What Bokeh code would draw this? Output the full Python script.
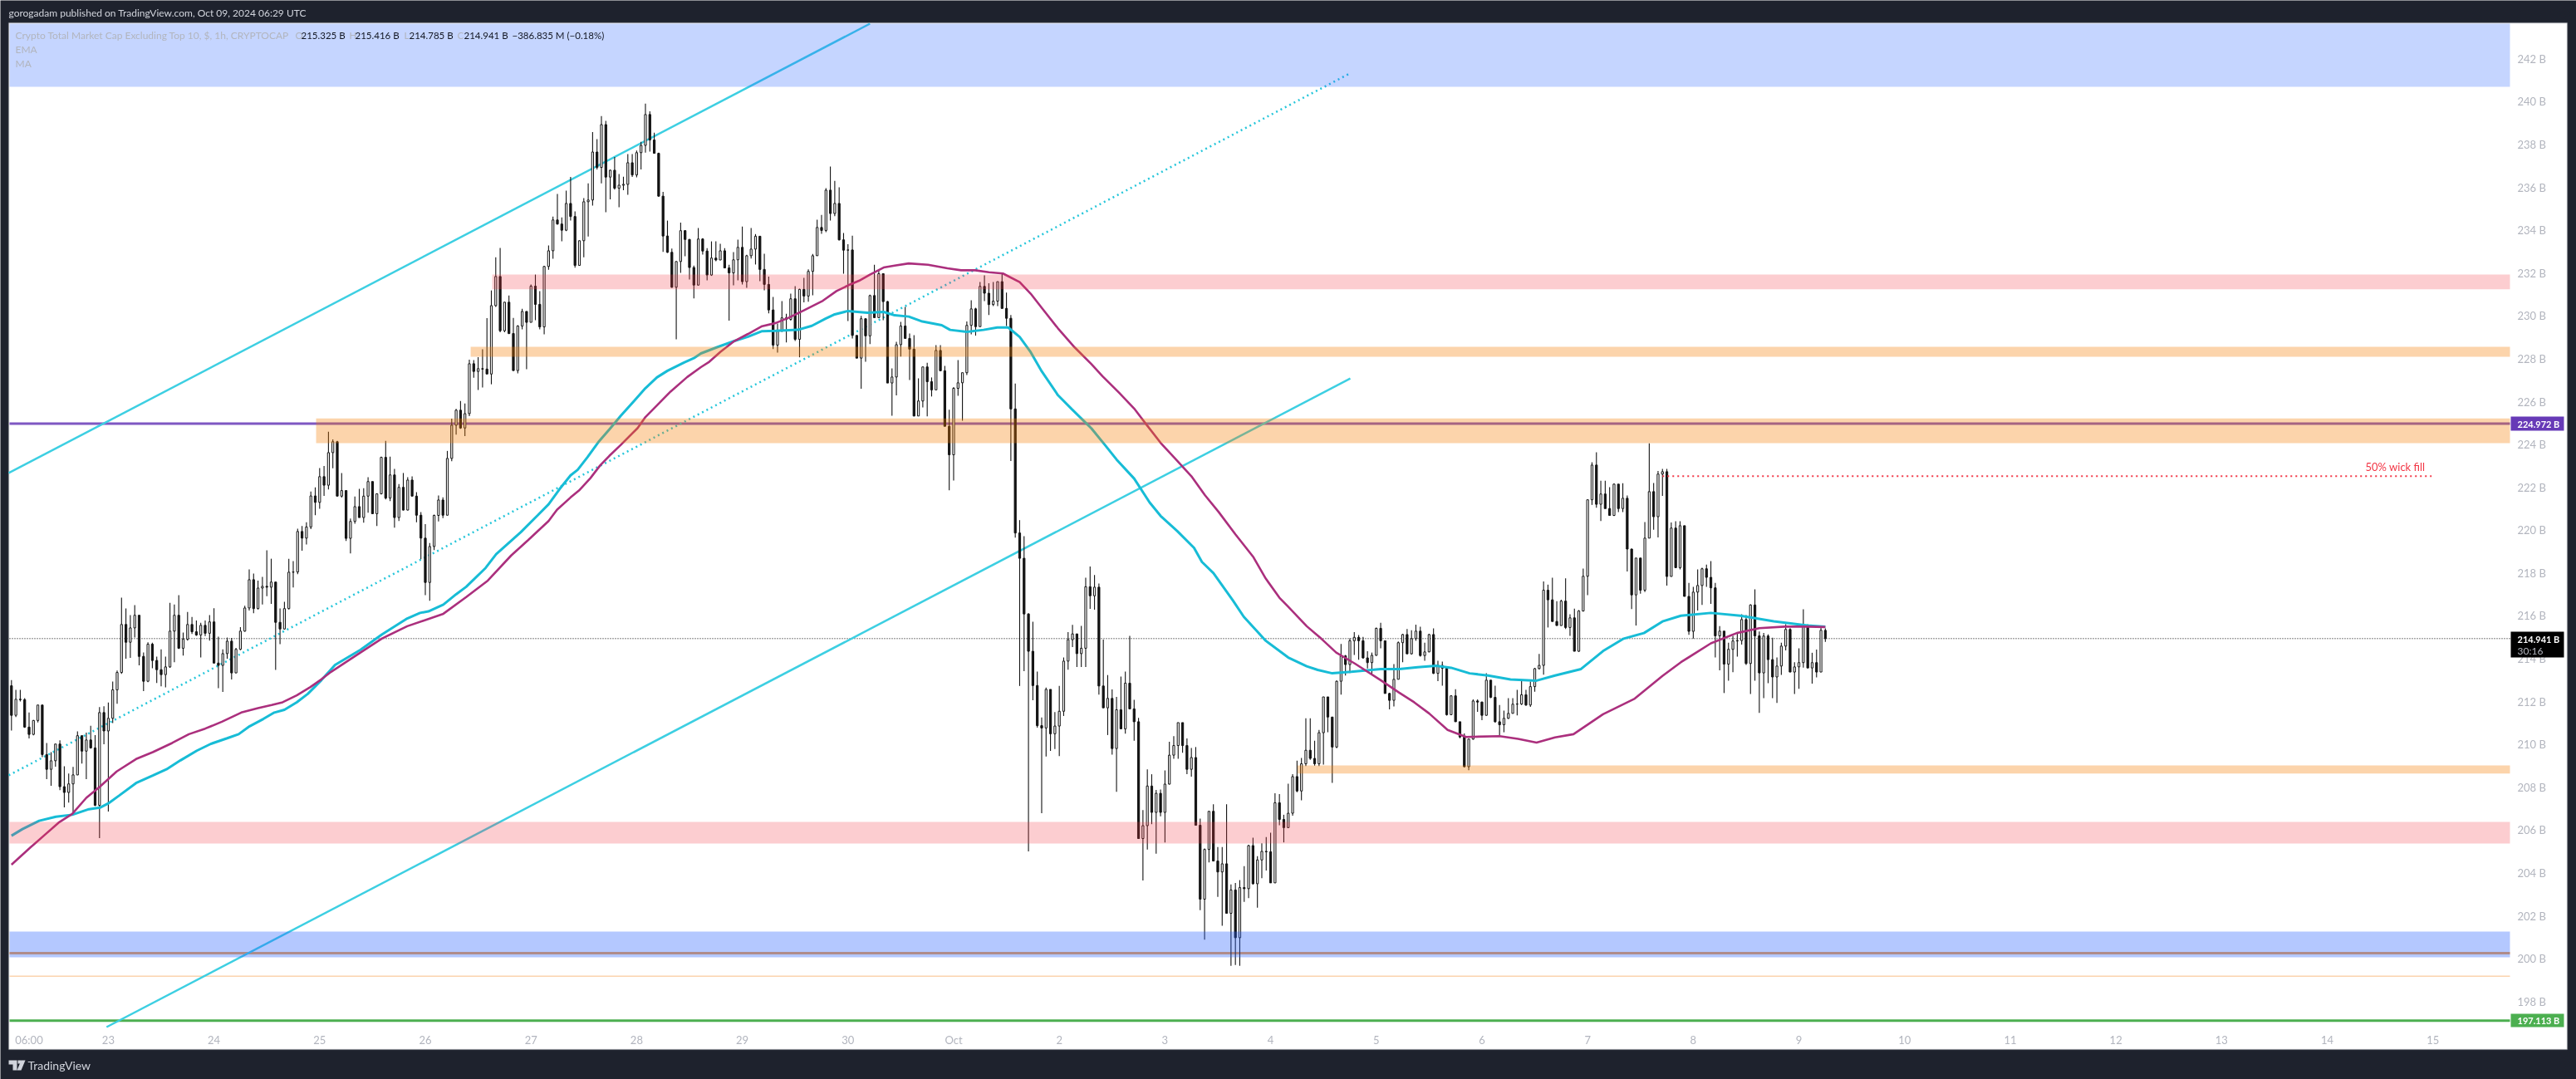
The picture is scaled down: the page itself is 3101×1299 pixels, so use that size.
from bokeh.plotting import figure
from bokeh.embed import file_html
from bokeh.resources import INLINE
from bokeh.models import (Range1d, FixedTicker, LinearAxis, BoxAnnotation, Label, PolyAnnotation,
                          PrintfTickFormatter)

# ---------- chart values (billions USD) ----------
first_open = 212.74
closes = [
211.36,212.11,212.09,210.81,210.47,211.12,211.84,209.53,208.84,209.24,
210.02,208.03,207.76,208.16,208.58,210.41,209.69,210.21,209.84,207.16,
211.49,210.63,211.22,212.55,213.36,215.60,214.77,215.44,216.03,214.11,
212.95,214.68,213.92,213.49,213.26,213.62,215.29,216.03,214.49,214.91,
215.60,215.26,215.11,215.56,215.19,215.72,213.80,213.69,214.24,214.82,
213.34,214.44,215.29,216.37,217.69,216.34,217.30,217.38,217.34,217.58,
215.70,215.39,216.34,218.04,218.05,219.94,219.63,220.15,221.60,221.30,
222.50,222.10,223.62,224.13,221.59,221.85,219.62,220.41,221.10,220.59,
221.59,222.27,220.77,221.70,223.40,221.50,222.58,220.59,222.00,220.94,
222.34,221.59,220.70,219.63,217.56,219.24,220.69,221.41,220.70,223.35,
224.90,225.60,224.77,225.44,227.77,227.41,227.54,227.52,227.29,230.48,
231.84,229.31,230.64,229.18,227.45,229.53,230.21,229.70,231.39,230.54,
229.49,232.31,233.04,234.48,234.29,234.00,235.25,234.64,232.36,233.51,
235.33,235.41,237.65,236.93,238.93,236.48,236.80,235.96,236.10,236.14,
237.15,236.58,237.62,237.96,239.40,238.21,237.59,235.59,233.73,232.97,
231.34,232.54,233.98,233.57,232.26,231.44,233.59,233.03,231.91,232.70,
232.61,233.04,232.24,232.01,232.62,233.20,231.60,232.81,233.12,233.72,
232.17,231.47,230.28,228.64,229.29,229.91,229.84,230.80,228.91,231.24,
230.93,232.08,232.81,234.13,233.99,235.87,234.78,235.25,233.55,233.07,
233.08,229.09,228.03,229.87,229.07,230.95,229.92,231.97,230.67,226.87,
227.15,228.66,229.53,228.95,228.45,225.33,226.03,227.62,226.93,226.55,
228.39,227.44,224.85,223.52,226.62,226.88,227.35,229.56,230.33,229.50,
231.38,231.06,230.53,230.69,231.60,230.35,229.89,225.66,219.87,218.69,
216.09,214.35,212.75,210.88,210.77,212.57,210.50,210.86,211.55,213.89,
214.89,215.16,214.24,214.49,217.36,216.94,217.34,212.73,211.71,212.15,
209.81,211.62,210.73,212.86,211.66,211.06,205.61,206.21,208.06,206.83,
207.72,206.83,208.15,209.50,209.95,211.02,209.95,208.84,209.39,206.23,
202.78,205.10,206.88,204.56,204.05,204.43,202.12,203.21,200.98,203.32,
203.27,205.28,203.50,204.61,205.01,204.99,203.54,207.28,206.50,206.12,
206.79,208.50,207.83,209.10,209.73,209.35,209.10,210.55,212.22,211.28,
209.88,212.95,214.13,213.73,214.84,215.00,214.84,214.04,213.82,214.16,
215.42,214.84,212.38,212.06,213.04,214.75,215.13,214.23,214.94,215.29,
214.15,214.32,215.13,213.32,213.69,213.56,211.39,212.27,211.06,210.35,
208.96,210.25,212.03,211.98,211.36,213.00,212.20,211.06,210.92,211.22,
211.45,211.88,211.89,212.32,211.84,212.70,213.54,213.69,217.20,216.75,
215.74,215.55,216.69,215.46,215.91,214.35,216.23,217.85,221.42,223.04,
221.21,221.69,221.01,220.69,222.15,221.01,221.49,219.12,216.98,218.70,
217.20,219.63,221.80,220.63,222.62,222.73,217.84,220.10,218.25,220.21,
216.91,215.28,217.11,217.42,218.20,217.80,217.31,215.07,215.29,213.75,
214.44,214.83,214.85,215.83,213.78,216.51,215.07,213.34,215.06,213.96,
213.15,213.66,214.59,215.37,213.38,213.62,213.82,215.56,213.57,213.82,
213.38,215.33,214.941]
highs = [
213.00,212.55,212.55,212.16,211.49,211.14,211.84,211.84,210.07,209.64,
210.02,210.19,208.98,208.64,208.95,210.61,210.41,210.55,210.87,210.44,
211.74,211.78,211.96,212.94,213.45,216.85,216.35,216.04,216.50,216.03,
214.29,214.77,214.75,214.10,214.44,214.10,216.61,216.53,216.97,215.22,
216.18,215.95,215.79,215.68,215.79,216.04,216.36,215.03,214.44,214.99,
214.97,214.51,215.48,216.47,218.17,217.98,217.65,217.82,219.06,218.67,
217.58,216.35,216.66,218.66,218.56,220.07,220.20,220.37,221.80,222.00,
222.90,223.00,224.60,224.24,224.17,222.67,221.85,220.54,221.57,221.93,
221.96,222.47,222.27,221.72,223.43,224.17,223.43,222.86,222.15,222.67,
222.47,222.51,221.78,220.85,220.28,219.40,220.73,221.62,221.53,223.70,
225.21,225.66,226.03,225.91,227.96,227.94,228.08,228.44,229.90,231.19,
232.74,233.17,230.65,230.95,229.91,229.57,230.33,230.21,231.47,231.93,
231.16,232.34,233.29,234.64,235.69,234.60,235.85,236.49,234.88,233.52,
235.50,236.19,238.58,238.25,239.33,239.10,236.83,237.42,236.62,236.50,
237.55,237.55,237.72,238.13,239.91,239.55,238.55,237.62,235.79,234.45,
233.14,232.54,234.36,234.01,233.59,232.35,234.10,233.63,233.16,233.48,
233.48,233.37,233.16,232.39,232.98,233.56,234.17,232.85,234.10,233.82,
233.72,232.90,231.84,230.89,229.65,230.69,230.10,231.04,231.39,231.27,
231.78,232.17,232.89,234.49,234.71,235.96,236.97,236.30,236.00,233.87,
233.35,233.74,229.09,230.00,229.87,230.99,232.39,232.13,231.97,230.70,
227.55,228.79,229.72,230.42,229.18,229.10,227.09,227.62,227.81,227.13,
228.64,228.64,227.67,225.62,226.68,227.94,227.35,229.74,230.73,230.38,
231.58,231.89,231.53,231.58,231.60,232.02,231.09,230.04,226.84,220.47,
219.72,216.13,215.73,213.40,211.26,212.66,212.57,211.51,212.73,214.06,
215.24,215.58,215.16,215.53,217.78,218.31,217.91,217.51,214.89,213.24,
212.57,212.22,213.17,213.40,215.07,212.08,211.24,206.94,208.84,208.61,
207.88,207.90,208.79,210.13,210.39,211.02,211.02,210.28,209.84,209.88,
206.54,205.14,206.88,207.21,205.21,205.21,207.21,203.47,203.54,203.67,
204.32,205.32,205.65,204.79,205.39,205.68,205.88,207.72,207.68,206.72,
208.17,208.61,209.24,209.37,211.22,211.22,210.17,210.68,212.22,212.22,
211.28,212.99,214.69,214.18,214.95,215.24,215.11,215.02,214.35,214.29,
215.46,215.68,214.58,212.41,213.75,214.81,215.17,215.39,215.33,215.59,
215.50,214.75,215.17,215.42,213.91,213.87,213.61,212.30,212.58,211.06,
210.51,210.25,212.10,212.10,212.00,213.32,213.00,212.74,211.84,211.58,
212.16,212.16,212.55,212.96,212.55,212.94,213.58,214.23,217.61,217.46,
217.78,216.69,216.76,217.75,216.08,216.34,216.27,218.21,221.42,223.17,
223.64,222.31,222.31,222.01,222.18,222.15,222.19,221.62,219.14,218.70,
218.70,220.38,224.05,222.20,222.76,222.86,222.86,220.36,220.42,220.42,
220.21,217.54,217.36,218.17,218.25,218.39,218.56,217.54,215.52,215.29,
214.75,215.07,215.17,216.08,216.04,216.54,217.24,215.27,215.20,215.14,
214.98,214.06,214.75,215.61,215.43,213.84,214.49,216.31,215.61,214.28,
214.43,215.50,215.416]
lows = [
210.65,211.28,212.01,210.78,210.28,210.43,211.03,209.41,208.38,208.07,
208.96,207.87,207.06,207.29,206.71,208.57,209.11,208.38,209.81,207.12,
205.63,210.01,206.87,211.00,211.90,213.30,214.00,214.04,214.99,213.69,
212.49,212.91,213.56,212.87,212.71,212.67,213.58,213.84,214.46,214.15,
214.85,215.16,215.07,214.06,215.06,214.85,213.78,212.63,212.45,214.00,
213.03,213.33,214.40,215.26,216.25,216.13,216.30,216.53,216.92,216.56,
213.48,214.68,215.37,216.30,217.33,217.95,219.04,219.33,220.05,220.70,
221.00,221.60,221.90,222.89,221.59,221.52,219.50,218.92,220.30,220.59,
220.35,220.82,220.77,220.20,221.67,221.44,221.36,220.12,220.43,220.92,
220.92,221.59,220.37,218.65,216.97,216.71,219.07,220.41,220.56,220.69,
223.22,224.46,224.73,224.39,225.32,227.12,226.54,226.66,227.29,226.81,
230.42,229.24,229.24,229.15,227.45,227.32,229.37,227.51,229.70,229.80,
229.37,229.14,232.16,232.67,234.26,233.48,233.96,234.45,232.25,232.34,
232.74,233.71,235.15,236.84,236.19,234.84,235.44,235.90,235.07,235.87,
235.65,236.49,236.47,236.84,237.62,237.67,237.59,235.57,232.99,232.94,
231.31,228.91,232.01,232.79,231.70,230.82,231.43,232.86,231.66,231.87,
232.55,232.61,232.24,229.78,231.43,231.66,231.47,231.31,232.68,232.40,
231.62,231.20,230.12,228.45,228.29,229.26,228.76,229.78,228.83,228.07,
230.63,230.66,230.96,232.80,233.83,233.91,234.45,234.66,233.52,231.97,
229.76,228.95,228.03,226.60,227.86,228.69,229.92,229.91,229.80,226.87,
225.34,226.29,228.10,228.95,227.01,225.31,225.33,225.73,225.31,226.24,
226.56,227.44,224.85,221.86,222.32,226.27,225.11,227.24,229.14,229.08,
229.50,230.69,230.04,230.46,230.46,230.35,229.53,223.23,219.65,212.73,
213.42,205.01,212.06,210.79,206.79,209.44,209.70,209.79,209.46,211.33,
213.49,214.55,213.62,213.62,213.62,216.33,216.29,212.33,211.71,210.44,
209.53,207.79,210.73,210.50,211.66,210.17,205.61,203.65,205.10,206.28,
204.90,206.65,205.43,208.13,209.33,209.33,209.61,208.61,208.50,206.23,
202.27,200.89,204.50,204.56,202.89,201.54,202.12,199.67,199.71,199.67,
202.65,202.83,203.46,202.38,203.76,204.12,203.54,203.54,206.23,205.43,
206.10,206.68,207.77,207.39,208.99,209.28,209.01,208.99,209.06,210.57,
208.21,209.83,212.33,213.22,213.33,214.18,213.95,214.00,213.55,213.30,
214.14,214.49,212.38,211.64,211.77,213.03,213.84,214.23,214.20,214.84,
214.10,213.91,214.30,213.29,212.96,212.74,211.35,211.37,211.06,210.29,
208.93,208.80,210.22,211.52,211.13,211.35,212.16,211.02,210.42,210.57,
211.19,211.44,211.36,211.84,211.80,211.75,212.46,213.50,213.26,215.46,
215.74,215.55,215.54,215.39,215.07,214.35,214.32,216.20,216.97,221.18,
221.05,220.43,221.01,220.69,220.66,220.85,220.85,218.07,216.32,215.55,
217.04,217.11,219.63,220.02,219.66,221.60,217.41,217.84,218.25,218.17,
216.91,215.12,214.94,216.25,216.51,217.36,216.56,214.06,213.46,212.40,
212.98,213.37,214.10,214.66,213.71,212.36,212.98,211.47,212.16,212.86,
212.16,211.94,213.25,214.39,213.38,212.36,212.60,213.59,213.57,212.84,
213.13,213.38,214.785]

ema_t = [1,3.5,7.3,11.1,14.8,18.6,21.1,23,25.5,29.3,33.1,36.2,39.4,43.1,46.3,50,52.6,55.1,58.2,60.7,63,65.8,68.3,71.4,74.5,
80.3,85.1,90.9,93.8,95.7,99.1,102,104.3,108.7,111.1,116.7,120.5,123,125.5,128,129.6,131.8,134.3,136.8,139.4,142.5,145,147.6,
150,153.8,156,157.6,161.4,165.2,168.3,171.5,174.6,179.6,182.8,185.9,187.8,191,195.4,199.1,201.6,204.8,207.9,212.3,214.2,
218,221.8,224.9,227.4,230,232.5,235,238.7,241.9,246.3,249.4,252,256,259.5,262,265.8,269.6,271.4,274,278.4,280.9,285.9,
291,295.2,297.7,301,305.3,312,316.2,320.4,324.6,328,332.2,336.4,341.5,347.4,351.6,357.5,362.5,367.2,371.8,376,380.2,387,393.7,401.3,408.9,413]
ema_v = [205.74,206.05,206.44,206.63,206.72,206.98,207.05,207.25,207.62,208.20,208.55,208.84,209.26,209.71,210.03,210.29,210.48,210.85,211.19,211.49,211.62,211.97,212.36,213.00,213.71,
214.42,215.13,215.88,216.14,216.21,216.53,217.01,217.36,218.24,218.88,219.91,220.69,221.21,221.92,222.56,222.82,223.40,224.11,224.70,225.34,226.05,226.63,227.13,
227.44,227.83,228.03,228.25,228.55,228.83,229.03,229.29,229.31,229.35,229.54,229.87,230.06,230.23,230.15,230.19,230.03,229.97,229.74,229.57,229.35,
229.26,229.35,229.46,229.46,229.02,228.31,227.42,226.30,225.64,224.75,223.97,223.30,222.41,221.30,220.67,219.96,219.18,218.52,218.00,216.73,215.96,214.84,
214.06,213.65,213.48,213.32,213.39,213.52,213.52,213.61,213.67,213.58,213.32,213.22,213.03,212.98,213.22,213.52,214.36,214.94,215.20,215.74,216.01,216.14,216.01,215.75,215.55,215.50]

ma_t = [1,5.4,8.5,11.7,14.8,18,21.1,24.9,29.3,33.1,37.5,41.3,45,48.8,53.2,57,60.1,62.6,65.8,68.9,71.4,73.6,79.4,85.1,90.9,99.1,104.3,109.2,114.5,118.3,123,124.9,128,129.9,132.5,134.7,136.8,139.4,143.2,145,147.6,
150.7,154.5,157.6,159.5,162,165.2,168.3,171.5,174.6,177.7,180.9,185.3,188.4,191.6,193.5,196,199.1,201.6,204.8,209.2,213.6,216.7,219.9,223,226.2,230,232.5,235,238.7,242.5,246.3,248.8,252.6,256,258.9,262,265.2,269,272.1,275.2,279,283.1,285.9,289,
290.9,295.2,298.5,301.9,306.1,312,316.2,319.6,323,327.2,331.4,339,343.2,347.4,351.6,355.8,362.5,369.7,376,380.2,387,392.9,398,403.8,408.9,413]
ma_v = [204.39,205.21,205.77,206.35,206.76,207.51,208.03,208.74,209.32,209.64,210.07,210.48,210.74,211.06,211.49,211.70,211.84,211.97,212.29,212.68,213.04,213.39,214.17,214.94,215.52,216.10,216.88,217.65,218.82,219.53,220.43,220.95,221.53,221.85,222.43,223.02,223.47,223.98,224.76,225.28,225.82,
226.47,227.15,227.61,227.86,228.32,228.83,229.16,229.52,229.67,229.93,230.25,230.71,231.16,231.48,231.64,231.93,232.26,232.35,232.45,232.39,232.22,232.13,232.13,232.04,231.98,231.58,231.04,230.38,229.42,228.53,227.75,227.19,226.41,225.68,224.90,224.08,223.37,222.52,221.63,220.85,219.81,218.74,217.74,216.85,
216.45,215.52,214.94,214.29,213.78,213.00,212.42,211.97,211.45,210.68,210.35,210.39,210.26,210.09,210.33,210.48,211.41,212.14,213.20,213.84,214.72,215.20,215.43,215.50,215.50,215.48]

price_ticks = list(range(198, 244, 2))
time_ticks = [5] + [23 + 24 * k for k in range(23)]
time_labels = ["06:00","23","24","25","26","27","28","29","30","Oct","2","3","4","5","6","7","8","9","10","11","12","13","14","15"]

trend_upper_t, trend_upper_v = [0.38, 196.0], [222.67, 243.64]
trend_lower_t, trend_lower_v = [22.6, 305.1], [196.81, 227.08]
trend_mid_t, trend_mid_v = [0.38, 305.3], [208.56, 241.35]

pink_bands = dict(left=[110.2, 0.566], bottom=[231.24, 205.38], top=[231.93, 206.39])
orange_bands = dict(left=[105.3, 70.2, 293.1], bottom=[228.09, 224.06, 208.64], top=[228.56, 225.22, 209.02])
blue_bands = dict(left=[0.566], bottom=[200.07], top=[201.27])
top_band = dict(left=[0.566], bottom=[240.69], top=[243.64])
last_price, resistance, support, level_200, level_199 = 214.941, 224.972, 197.113, 200.26, 199.18
wick_level, wick_t = 222.52, [376, 550.7]

# ---------- figure: the frame fills the canvas; the chart pane is one part of it ----------
W, H = 3101, 1299
t_left, t_right = 0.566, 568.5      # time at the pane's left and right edges
y_low, y_high = 196.81, 243.64      # value at the pane's bottom and top edges
px_t = (3021 - 11) / (t_right - t_left)
px_v = (1236 - 28) / (y_high - y_low)
DARK, TXT = "#1e222d", "#b2b5be"
FONT = "Lato"

p = figure(width=W, height=H, output_backend="svg", toolbar_location=None,
           x_range=Range1d(t_left - 11 / px_t, t_right + (W - 3021) / px_t),
           y_range=Range1d(y_low - (H - 1236) / px_v, y_high + 28 / px_v),
           min_border_left=0, min_border_right=0, min_border_top=0, min_border_bottom=0,
           x_axis_location=None, y_axis_location=None, background_fill_color=DARK,
           border_fill_color=DARK, outline_line_color=None)
p.styles = {"position": "fixed", "left": "0px", "top": "0px"}
p.grid.visible = False

# white pane and its border, behind everything
p.add_layout(BoxAnnotation(left=10, right=3090, top=27, bottom=1263, left_units="canvas", right_units="canvas",
                           top_units="canvas", bottom_units="canvas", fill_color="white", fill_alpha=1,
                           line_color="#868993", line_width=1.5, level="underlay", editable=False))

yax = LinearAxis(ticker=FixedTicker(ticks=price_ticks), formatter=PrintfTickFormatter(format="%d B"))
xax = LinearAxis(ticker=FixedTicker(ticks=time_ticks), major_label_overrides=dict(zip(time_ticks, time_labels)))
for ax in (yax, xax):
    ax.axis_line_color = None
    ax.major_tick_line_color = None
    ax.minor_tick_line_color = None
    ax.major_tick_out = 0
    ax.major_tick_in = 0
    ax.major_label_text_color = TXT
    ax.major_label_text_font = FONT
    ax.major_label_text_font_size = "13px"
yax.major_label_standoff = -71
xax.major_label_standoff = -56
p.add_layout(yax, "right")
p.add_layout(xax, "below")

# reference lines under the bands
p.line([t_left, t_right], [resistance] * 2, line_color="#673ab7", line_width=3, line_alpha=0.85)
p.line([t_left, t_right], [level_200] * 2, line_color="#f57c00", line_width=3, line_alpha=0.7)
p.line([t_left, t_right], [level_199] * 2, line_color="#fcd3ae", line_width=1.5)
p.line([t_left, t_right], [support] * 2, line_color="#4caf50", line_width=3)
p.line([t_left, t_right], [last_price] * 2, line_color="black", line_width=1, line_dash="1 2")

p.line(trend_upper_t, trend_upper_v, line_color="#3dcfe2", line_width=2.5)
p.line(trend_lower_t, trend_lower_v, line_color="#3dcfe2", line_width=2.5)
p.line(trend_mid_t, trend_mid_v, line_color="#26c6da", line_width=2.5, line_dash="2 4")

# candles
t = list(range(1, len(closes) + 1))
opens = [first_open] + closes[:-1]
opens[-1] = 215.325
tops = [max(a, b) for a, b in zip(opens, closes)]
bots = [min(a, b) for a, b in zip(opens, closes)]
fills = ["#131313" if c < o else "white" for o, c in zip(opens, closes)]
p.segment(t, lows, t, highs, line_color="#131313", line_width=1.1)
p.vbar(x=t, top=tops, bottom=bots, width=0.42, fill_color=fills, line_color="#131313", line_width=1)

p.line(ema_t, ema_v, line_color="#17bcd6", line_width=3)
p.line(ma_t, ma_v, line_color="#ab2f7d", line_width=2.6)
p.line(wick_t, [wick_level] * 2, line_color="#f23645", line_width=2, line_dash="2 4")

# translucent zones drawn above candles and lines
def band(d, color, alpha):
    p.quad(left=d["left"], right=[t_right] * len(d["left"]), bottom=d["bottom"], top=d["top"],
           fill_color=color, fill_alpha=alpha, line_color=None)
band(top_band, "#2962ff", 0.27)
band(pink_bands, "#f23645", 0.25)
band(orange_bands, "#f57c00", 0.33)
band(blue_bands, "#2962ff", 0.35)

def txt(x, y, s, color=TXT, size=12, style="normal", font=FONT):
    p.add_layout(Label(x=x, y=y, x_units="canvas", y_units="canvas", text=s, text_color=color,
                       text_font=font, text_font_size=f"{size}px", text_font_style=style,
                       text_baseline="middle", text_align="left", level="annotation"))

def tag(y0, y1, color):
    p.add_layout(BoxAnnotation(left=3022, right=3086, top=y0, bottom=y1, left_units="canvas", right_units="canvas",
                               top_units="canvas", bottom_units="canvas", fill_color=color, fill_alpha=1,
                               line_color=None, level="annotation", editable=False))

tag(501, 518, "#673ab7")
tag(760, 791, "black")
tag(1220, 1236, "#4caf50")
txt(3030, 510, "224.972 B", "white", 11, "bold")
txt(3030, 769, "214.941 B", "white", 11, "bold")
txt(3030, 783, "30:16", "#b2b5be", 12)
txt(3030, 1228, "197.113 B", "white", 11, "bold")

txt(10, 15, "gorogadam published on TradingView.com, Oct 09, 2024 06:29 UTC", "#d1d4dc", 12)
txt(18, 42, "Crypto Total Market Cap Excluding Top 10, $, 1h, CRYPTOCAP", TXT, 12)
for x, s, c in [(355, "O", TXT), (362, "215.325 B", "#131722"), (420, "H", TXT), (427, "215.416 B", "#131722"),
                (486, "L", TXT), (492, "214.785 B", "#131722"), (550, "C", TXT), (558, "214.941 B", "#131722"),
                (616, "−386.835 M (−0.18%)", "#131722")]:
    txt(x, 42, s, c, 11.5)
txt(18, 59, "EMA", TXT, 12)
txt(18, 76, "MA", TXT, 12)
txt(2847, 561, "50% wick fill", "#f23645", 13)
txt(33, 1282, "TradingView", "#d1d4dc", 14)

# TradingView mark
for xs, ys in [([10, 20, 20, 15, 15, 10], [1276, 1276, 1288, 1288, 1281, 1281]),
               ([21, 25, 25, 21], [1276, 1276, 1280, 1280]),
               ([25, 30, 25, 20], [1276, 1276, 1288, 1288])]:
    p.add_layout(PolyAnnotation(xs=xs, ys=ys, xs_units="canvas", ys_units="canvas", fill_color="#d1d4dc",
                                fill_alpha=1, line_color=None, level="annotation", editable=False))

assert len(closes) == len(highs) == len(lows) == 413, (len(closes), len(highs), len(lows))

open("out.html", "w").write(file_html(p, INLINE))
